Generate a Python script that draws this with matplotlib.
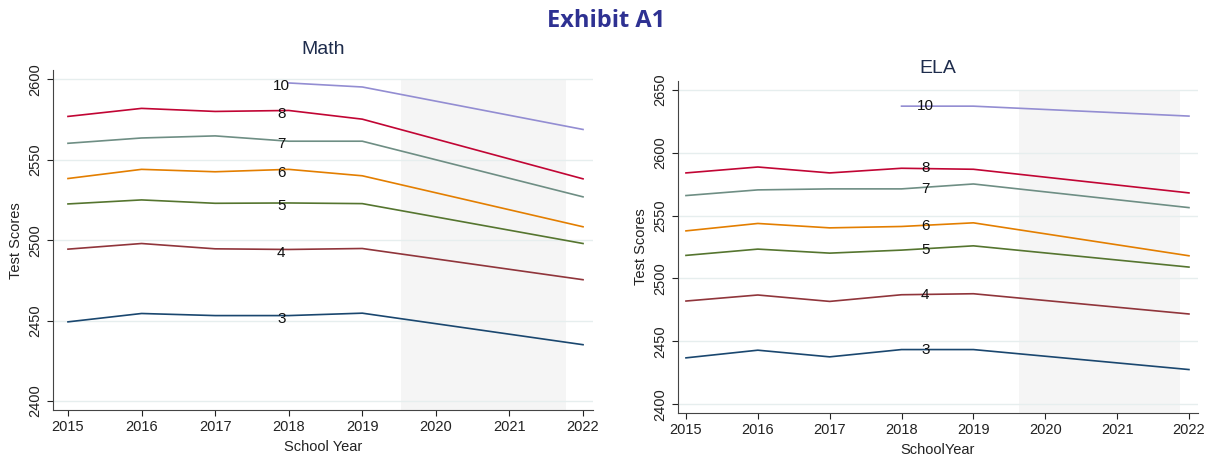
import numpy as np
import matplotlib
matplotlib.use("Agg")
import matplotlib.pyplot as plt

plt.rcParams["font.family"] = ["Liberation Sans", "DejaVu Sans"]

years = [2015, 2016, 2017, 2018, 2019, 2022]
years10 = [2018, 2019, 2022]
grades = ["3", "4", "5", "6", "7", "8", "10"]
colors = ["#1a476f", "#90353b", "#55752f", "#e37e00", "#6e8e84", "#c10534", "#938dd2"]

math_scores = {
    "3": [2449.2, 2454.4, 2453.1, 2453.1, 2454.6, 2435.0],
    "4": [2494.4, 2497.9, 2494.6, 2494.2, 2494.8, 2475.4],
    "5": [2522.5, 2525.0, 2522.9, 2523.1, 2522.7, 2497.9],
    "6": [2538.3, 2544.0, 2542.5, 2544.0, 2540.0, 2508.3],
    "7": [2560.2, 2563.5, 2564.8, 2561.5, 2561.5, 2526.9],
    "8": [2576.9, 2581.9, 2580.0, 2580.6, 2575.2, 2538.1],
    "10": [2597.7, 2595.2, 2568.8],
}
ela_scores = {
    "3": [2436.8, 2442.9, 2437.6, 2443.4, 2443.4, 2427.5],
    "4": [2482.0, 2486.8, 2481.7, 2487.0, 2487.8, 2471.7],
    "5": [2518.3, 2523.3, 2520.1, 2522.5, 2525.9, 2509.0],
    "6": [2537.8, 2543.7, 2540.2, 2541.3, 2544.2, 2518.0],
    "7": [2565.9, 2570.4, 2571.2, 2571.2, 2575.1, 2556.3],
    "8": [2583.9, 2588.6, 2583.9, 2587.6, 2586.8, 2568.0],
    "10": [2637.0, 2637.0, 2629.1],
}

fig = plt.figure(figsize=(12.12, 4.61), dpi=100)
fig.text(0.5, 0.955, "Exhibit A1", ha="center", va="center", fontsize=17,
         fontweight="bold", color="#2e3192", family="Open Sans")


def panel(rect, scores, title, xlabel, ylim, xlim, yticks, shade, lab_x, lab_dy, title_pad):
    ax = fig.add_axes(rect)
    ax.fill_between(shade, ylim[0], yticks[-1], color="#f5f5f5", lw=0, zorder=0)
    for g, c in zip(grades, colors):
        xs = years10 if g == "10" else years
        ax.plot(xs, scores[g], color=c, lw=1.2, zorder=2)
        y18 = scores[g][xs.index(2018)]
        ax.text(lab_x, y18 + lab_dy, g, ha="center", va="center", fontsize=11,
                color="#111111", zorder=3)
    ax.set_xlim(*xlim)
    ax.set_ylim(*ylim)
    ax.set_xticks(range(2015, 2023))
    ax.set_yticks(yticks)
    ax.set_yticklabels([str(t) for t in yticks], rotation=90, va="center")
    ax.grid(axis="y", color="#e6eeee", lw=1, zorder=1)
    ax.set_axisbelow(True)
    for s in ["top", "right"]:
        ax.spines[s].set_visible(False)
    for s in ["left", "bottom"]:
        ax.spines[s].set_color("#444444")
    ax.tick_params(labelsize=10.5, colors="#222222", length=4)
    ax.set_title(title, fontsize=14, color="#1e2c4c", pad=title_pad)
    ax.set_xlabel(xlabel, fontsize=10.5, color="#222222")
    ax.set_ylabel("Test Scores", fontsize=10.5, color="#222222")
    return ax


panel([0.0437, 0.1106, 0.4456, 0.737], math_scores, "Math", "School Year",
      (2394.4, 2605.6), (2014.796, 2022.136), [2400, 2450, 2500, 2550, 2600],
      (2019.52, 2021.77), 2017.9, -2, 12)
panel([0.5594, 0.104, 0.429, 0.720], ela_scores, "ELA", "SchoolYear",
      (2392.9, 2656.9), (2014.889, 2022.125), [2400, 2450, 2500, 2550, 2600, 2650],
      (2019.63, 2021.87), 2018.33, 0, 6)

fig.savefig("out.png", dpi=100)
